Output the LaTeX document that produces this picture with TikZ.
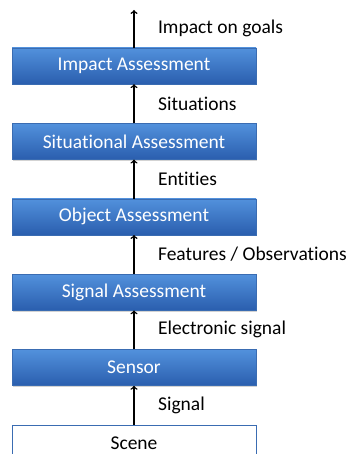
\documentclass[tikz,border=0pt]{standalone}
\usepackage{fontspec}
\setmainfont{Carlito}[Ligatures=NoCommon]
\usetikzlibrary{positioning,shadows}
\tikzset{>=to}
\definecolor{bxtop}{HTML}{5291DC}
\definecolor{bxbot}{HTML}{2A5EAE}
\definecolor{bxline}{HTML}{3A6CB2}
\tikzset{
    stage/.style={draw=bxline, top color=bxtop, bottom color=bxbot, text=white,
        minimum width=244pt, minimum height=36pt, inner sep=0pt,
        drop shadow={opacity=0.35, shadow xshift=1pt, shadow yshift=-1.5pt}},
    scenebox/.style={draw=bxline, fill=white, thick,
        minimum width=244pt, minimum height=36pt, inner sep=0pt},
    flow/.style={->, line width=1.5pt},
    lbl/.style={right=20pt, text=black}
}

\begin{document}
\begin{tikzpicture}[x=1pt, y=1pt, node distance=39pt, font=\fontsize{19.5}{23}\selectfont]
    \useasboundingbox(0, 0) rectangle (351, -454);
    \clip(0, 0) rectangle (351, -454);
    % stack of assessment levels
    \node[stage](impact) at (134, -66){Impact Assessment};
    \node[stage, below=of impact](situ){Situational Assessment};
    \node[stage, below=of situ](obj){Object Assessment};
    \node[stage, below=of obj](sig){Signal Assessment};
    \node[stage, below=of sig](sensor){Sensor};
    \node[scenebox, below=of sensor](scene){Scene};
    \coordinate(goal) at (134, -10);
    % flows between levels
    \draw[flow](scene)--(sensor)node[midway, lbl]{Signal};
    \draw[flow](sensor)--(sig)node[midway, lbl]{Electronic signal};
    \draw[flow](sig)--(obj)node[midway, lbl]{Features / Observations};
    \draw[flow](obj)--(situ)node[midway, lbl]{Entities};
    \draw[flow](situ)--(impact)node[midway, lbl]{Situations};
    \draw[flow](impact)--(goal)node[midway, lbl]{Impact on goals};
\end{tikzpicture}
\end{document}
